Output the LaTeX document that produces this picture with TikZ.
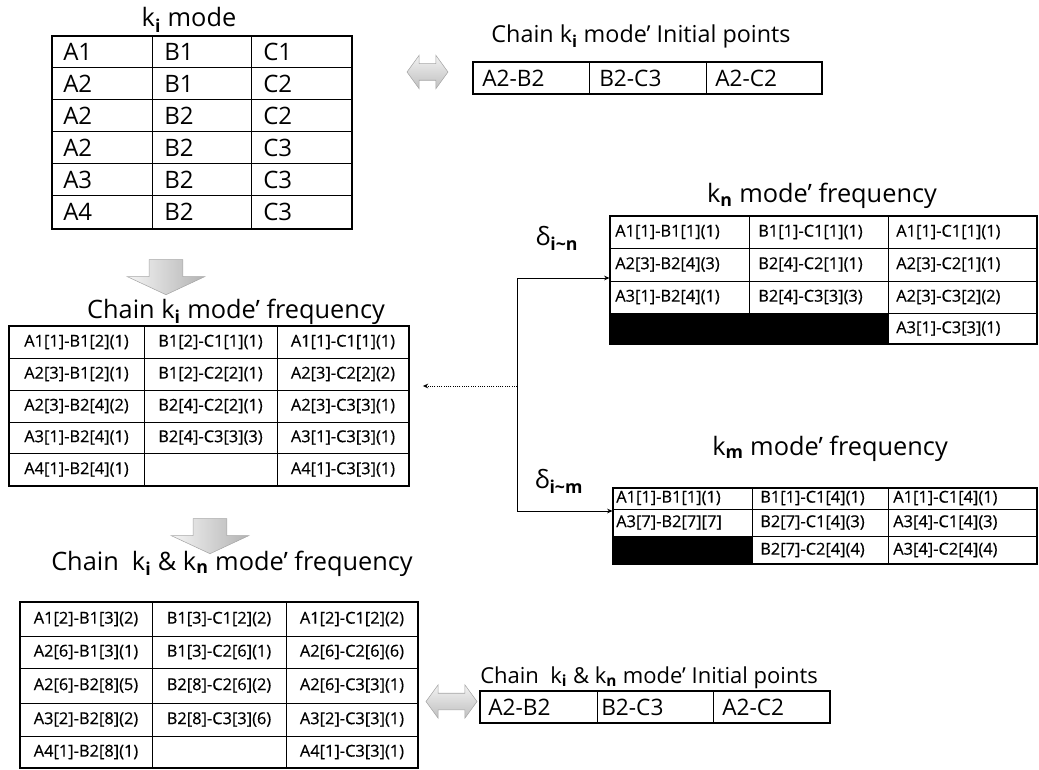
\documentclass[tikz,border=0pt]{standalone}
\usepackage{fontspec}
\setmainfont{Open Sans}
\newfontfamily\cellfont{Open Sans}[FakeBold=0.5]
\usetikzlibrary{shapes.arrows,fit,arrows.meta}
\newcommand\mysub[1]{\textsubscript{\bfseries #1}}
\begin{document}
\begin{tikzpicture}[x=0.75pt,y=-0.75pt,
  ttl/.style={font=\fontsize{19}{21}\selectfont, inner sep=0, anchor=base},
  ipttl/.style={font=\fontsize{16.5}{19}\selectfont, inner sep=0, anchor=base},
  bigcell/.style={font=\fontsize{18}{20}\selectfont, inner sep=0, anchor=west},
  midcell/.style={font=\fontsize{17}{19}\selectfont, inner sep=0, anchor=west},
  fc/.style={font=\cellfont\fontsize{12.3}{14}\selectfont, inner sep=0},
  fcl/.style={fc, anchor=west},
  frame/.style={draw, line width=0.8pt, inner sep=0},
  grid/.style={line width=0.75pt},
  conn/.style={line width=0.6pt, -{Stealth[length=4pt,width=3.5pt]}},
  dconn/.style={line width=0.7pt, densely dotted, -{Stealth[length=4pt,width=3.5pt]}},
  downarrow/.style={single arrow, rotate=-90, minimum height=26.25pt, minimum width=57.75pt,
     inner xsep=0pt, inner ysep=12.4pt, single arrow head extend=16.5pt, single arrow tip angle=130,
     left color=gray!8, right color=gray!60, draw=gray!70, line width=0.4pt, anchor=tip},
  dblarrow/.style={double arrow, minimum height=#1, minimum width=24.75pt,
     inner xsep=0pt, inner ysep=6pt, double arrow head extend=6.4pt, double arrow tip angle=108,
     top color=gray!10, bottom color=gray!50, draw=gray!70, line width=0.4pt}
]
\useasboundingbox (0,0) rectangle (1039,770);

%% ---------- k_i mode ----------
\node[ttl] (t-kimode) at (189,27) {k\mysub{i} mode};
\node[frame, fit={(52,36)(352,229)}] (kim) {};
\foreach \x in {152,251} \draw[grid] (\x,36) -- (\x,229);
\foreach \y in {68,100,132,164,196} \draw[grid] (52,\y) -- (352,\y);
\node[bigcell] (kim11) at (63,52) {A1};  \node[bigcell] (kim12) at (164,52) {B1};  \node[bigcell] (kim13) at (263,52) {C1};
\node[bigcell] (kim21) at (63,84) {A2};  \node[bigcell] (kim22) at (164,84) {B1};  \node[bigcell] (kim23) at (263,84) {C2};
\node[bigcell] (kim31) at (63,116) {A2}; \node[bigcell] (kim32) at (164,116) {B2}; \node[bigcell] (kim33) at (263,116) {C2};
\node[bigcell] (kim41) at (63,148) {A2}; \node[bigcell] (kim42) at (164,148) {B2}; \node[bigcell] (kim43) at (263,148) {C3};
\node[bigcell] (kim51) at (63,180) {A3}; \node[bigcell] (kim52) at (164,180) {B2}; \node[bigcell] (kim53) at (263,180) {C3};
\node[bigcell] (kim61) at (63,212) {A4}; \node[bigcell] (kim62) at (164,212) {B2}; \node[bigcell] (kim63) at (263,212) {C3};

%% ---------- top initial points ----------
\node[dblarrow=30.75pt] (dbl1) at (427.5,72) {};
\node[ipttl, font=\fontsize{17.5}{20}\selectfont] (t-ip1) at (641,43) {Chain k\mysub{i} mode’ Initial points};
\node[frame, fit={(473,62)(822,94)}] (ip1) {};
\foreach \x in {589,706} \draw[grid] (\x,62) -- (\x,94);
\node[midcell] (ip11) at (482,78) {A2-B2};
\node[midcell] (ip12) at (599,78) {B2-C3};
\node[midcell] (ip13) at (715,78) {A2-C2};

%% ---------- k_n mode frequency ----------
\node[ttl] (t-kn) at (822,203) {k\mysub{n} mode’ frequency};
\node[frame, fit={(610,216)(1037,344)}] (kn) {};
\fill (610,313) rectangle (888,344);
\draw[grid] (749,216) -- (749,313);
\draw[grid] (888,216) -- (888,344);
\foreach \y in {248,281,313} \draw[grid] (610,\y) -- (1037,\y);
\node[fcl] (kn11) at (615,232) {A1[1]-B1[1](1)}; \node[fcl] (kn12) at (758,232) {B1[1]-C1[1](1)}; \node[fcl] (kn13) at (896,232) {A1[1]-C1[1](1)};
\node[fcl] (kn21) at (615,264.5) {A2[3]-B2[4](3)}; \node[fcl] (kn22) at (758,264.5) {B2[4]-C2[1](1)}; \node[fcl] (kn23) at (896,264.5) {A2[3]-C2[1](1)};
\node[fcl] (kn31) at (615,297) {A3[1]-B2[4](1)}; \node[fcl] (kn32) at (758,297) {B2[4]-C3[3](3)}; \node[fcl] (kn33) at (896,297) {A2[3]-C3[2](2)};
\node[fcl] (kn43) at (896,328.5) {A3[1]-C3[3](1)};

%% ---------- k_m mode frequency ----------
\node[ttl] (t-km) at (830,455) {k\mysub{m} mode’ frequency};
\node[frame, fit={(613,488)(1037,564)}] (km) {};
\fill (613,536) rectangle (752,564);
\draw[grid] (752,488) -- (752,564);
\draw[grid] (888,488) -- (888,564);
\foreach \y in {509,536} \draw[grid] (613,\y) -- (1037,\y);
\node[fcl] (km11) at (616,498) {A1[1]-B1[1](1)}; \node[fcl] (km12) at (760,498) {B1[1]-C1[4](1)}; \node[fcl] (km13) at (893,498) {A1[1]-C1[4](1)};
\node[fcl] (km21) at (616,522.5) {A3[7]-B2[7][7]}; \node[fcl] (km22) at (760,522.5) {B2[7]-C1[4](3)}; \node[fcl] (km23) at (893,522.5) {A3[4]-C1[4](3)};
\node[fcl] (km32) at (760,550) {B2[7]-C2[4](4)}; \node[fcl] (km33) at (893,550) {A3[4]-C2[4](4)};

%% ---------- deltas and connectors ----------
\node[ttl] (dn) at (557,245) {δ\mysub{i\textasciitilde n}};
\node[ttl] (dm) at (559,488) {δ\mysub{i\textasciitilde m}};
\coordinate (bn) at (517,278);
\coordinate (bk) at (517,386);
\coordinate (bm) at (517,511);
\draw[line width=0.6pt] (bn) -- (bm);
\draw[conn] (bn) -- (bn -| kn.west);
\draw[conn] (bm) -- (bm -| km.west);

%% ---------- chain k_i mode frequency ----------
\node[downarrow] (down1) at (166,295) {};
\node[ttl] (t-cki) at (236,318) {Chain k\mysub{i} mode’ frequency};
\node[frame, fit={(9,326)(409,486)}] (cki) {};
\foreach \x in {144,277} \draw[grid] (\x,326) -- (\x,486);
\foreach \y in {358,390,422,453} \draw[grid] (9,\y) -- (409,\y);
\node[fc] (cki11) at (76.5,342) {A1[1]-B1[2](1)}; \node[fc] (cki12) at (210.5,342) {B1[2]-C1[1](1)}; \node[fc] (cki13) at (343,342) {A1[1]-C1[1](1)};
\node[fc] (cki21) at (76.5,374) {A2[3]-B1[2](1)}; \node[fc] (cki22) at (210.5,374) {B1[2]-C2[2](1)}; \node[fc] (cki23) at (343,374) {A2[3]-C2[2](2)};
\node[fc] (cki31) at (76.5,406) {A2[3]-B2[4](2)}; \node[fc] (cki32) at (210.5,406) {B2[4]-C2[2](1)}; \node[fc] (cki33) at (343,406) {A2[3]-C3[3](1)};
\node[fc] (cki41) at (76.5,437.5) {A3[1]-B2[4](1)}; \node[fc] (cki42) at (210.5,437.5) {B2[4]-C3[3](3)}; \node[fc] (cki43) at (343,437.5) {A3[1]-C3[3](1)};
\node[fc] (cki51) at (76.5,469.5) {A4[1]-B2[4](1)}; \node[fc] (cki53) at (343,469.5) {A4[1]-C3[3](1)};
\draw[dconn, shorten >=10pt] (bk) -- (bk -| cki.east);

%% ---------- chain k_i & k_n mode frequency ----------
\node[downarrow] (down2) at (210,554) {};
\node[ttl] (t-ckn) at (232,570) {Chain~~k\mysub{i} \& k\mysub{n} mode’ frequency};
\node[frame, fit={(20,602)(418,768)}] (ckn) {};
\foreach \x in {152,286} \draw[grid] (\x,602) -- (\x,768);
\foreach \y in {636,668,703,736} \draw[grid] (20,\y) -- (418,\y);
\node[fc] (ckn11) at (86,619) {A1[2]-B1[3](2)}; \node[fc] (ckn12) at (219,619) {B1[3]-C1[2](2)}; \node[fc] (ckn13) at (352,619) {A1[2]-C1[2](2)};
\node[fc] (ckn21) at (86,652) {A2[6]-B1[3](1)}; \node[fc] (ckn22) at (219,652) {B1[3]-C2[6](1)}; \node[fc] (ckn23) at (352,652) {A2[6]-C2[6](6)};
\node[fc] (ckn31) at (86,685.5) {A2[6]-B2[8](5)}; \node[fc] (ckn32) at (219,685.5) {B2[8]-C2[6](2)}; \node[fc] (ckn33) at (352,685.5) {A2[6]-C3[3](1)};
\node[fc] (ckn41) at (86,719.5) {A3[2]-B2[8](2)}; \node[fc] (ckn42) at (219,719.5) {B2[8]-C3[3](6)}; \node[fc] (ckn43) at (352,719.5) {A3[2]-C3[3](1)};
\node[fc] (ckn51) at (86,752) {A4[1]-B2[8](1)}; \node[fc] (ckn53) at (352,752) {A4[1]-C3[3](1)};

%% ---------- bottom initial points ----------
\node[dblarrow=38.25pt] (dbl2) at (451.5,701.5) {};
\node[ipttl, anchor=base west] (t-ip2) at (480,683) {Chain~~k\mysub{i} \& k\mysub{n} mode' Initial points};
\node[frame, fit={(480,691)(830,723)}] (ip2) {};
\foreach \x in {597,713} \draw[grid] (\x,691) -- (\x,723);
\node[midcell] (ip21) at (488,707) {A2-B2};
\node[midcell] (ip22) at (601,707) {B2-C3};
\node[midcell] (ip23) at (722,707) {A2-C2};
\end{tikzpicture}
\end{document}
